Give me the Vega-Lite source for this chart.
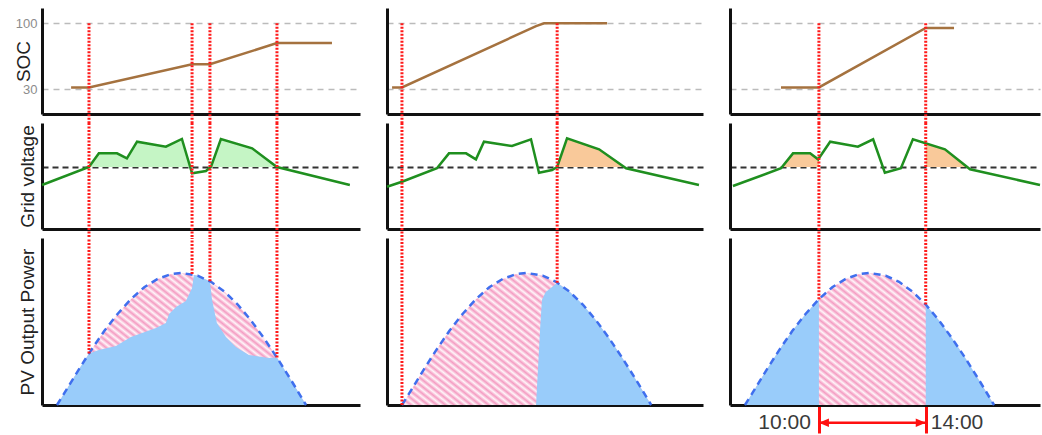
{
"$schema":"https://vega.github.io/schema/vega-lite/v6.json",
"padding":{"left":14,"top":8,"right":0,"bottom":0},
"bounds":"flush",
"columns":3,
"spacing":{"row":9,"column":27},
"config":{
 "font":"Liberation Sans",
 "view":{"stroke":null},
 "axis":{"domainColor":"#111111","domainWidth":3,"ticks":false,"labels":false,"grid":false,"zindex":1,"titleFont":"Liberation Sans","titleFontSize":19,"titleFontWeight":"normal","titleColor":"#222222","labelFont":"Liberation Sans"}
},
"datasets":{
 "soc":[
  {"col":"A","t":7.76,"soc":32},{"col":"A","t":8.43,"soc":32},{"col":"A","t":12.29,"soc":56.5},{"col":"A","t":12.96,"soc":56.5},{"col":"A","t":15.47,"soc":79},{"col":"A","t":17.53,"soc":79},
  {"col":"B","t":6.86,"soc":32},{"col":"B","t":7.23,"soc":32},{"col":"B","t":12.25,"soc":97},{"col":"B","t":12.55,"soc":100},{"col":"B","t":14.91,"soc":100},
  {"col":"C","t":8.58,"soc":32},{"col":"C","t":10,"soc":32},{"col":"C","t":14,"soc":95},{"col":"C","t":15.06,"soc":95}],
 "grid":[
  {"col":"A","t":6.67,"v":228.29},{"col":"A","t":8.43,"v":230},{"col":"A","t":8.8,"v":231.3},{"col":"A","t":9.48,"v":231.3},{"col":"A","t":9.85,"v":230.83},{"col":"A","t":10.23,"v":232.41},{"col":"A","t":11.31,"v":231.93},{"col":"A","t":11.91,"v":232.67},{"col":"A","t":12.29,"v":229.4},{"col":"A","t":12.81,"v":229.62},{"col":"A","t":13.0,"v":230.03},{"col":"A","t":13.37,"v":232.67},{"col":"A","t":14.54,"v":231.78},{"col":"A","t":15.47,"v":230},{"col":"A","t":18.2,"v":228.29},
  {"col":"B","t":6.67,"v":228.12},{"col":"B","t":7.23,"v":228.6},{"col":"B","t":8.54,"v":229.88},{"col":"B","t":8.99,"v":231.3},{"col":"B","t":9.63,"v":231.3},{"col":"B","t":10.0,"v":230.73},{"col":"B","t":10.3,"v":232.41},{"col":"B","t":11.35,"v":232.0},{"col":"B","t":12.06,"v":232.64},{"col":"B","t":12.36,"v":229.46},{"col":"B","t":12.85,"v":229.71},{"col":"B","t":13.04,"v":230},{"col":"B","t":13.41,"v":232.73},{"col":"B","t":14.61,"v":231.69},{"col":"B","t":15.62,"v":229.88},{"col":"B","t":18.35,"v":228.29},
  {"col":"C","t":6.78,"v":228.19},{"col":"C","t":8.58,"v":229.88},{"col":"C","t":9.03,"v":231.3},{"col":"C","t":9.67,"v":231.3},{"col":"C","t":9.97,"v":230.73},{"col":"C","t":10.42,"v":232.41},{"col":"C","t":11.46,"v":231.93},{"col":"C","t":12.03,"v":232.64},{"col":"C","t":12.47,"v":229.46},{"col":"C","t":13.07,"v":229.88},{"col":"C","t":13.52,"v":232.64},{"col":"C","t":14.72,"v":231.69},{"col":"C","t":15.66,"v":229.78},{"col":"C","t":18.28,"v":228.29}],
 "gfill":[
  {"col":"A","seg":1,"t":8.43,"v":230},{"col":"A","seg":1,"t":8.8,"v":231.3},{"col":"A","seg":1,"t":9.48,"v":231.3},{"col":"A","seg":1,"t":9.85,"v":230.83},{"col":"A","seg":1,"t":10.23,"v":232.41},{"col":"A","seg":1,"t":11.31,"v":231.93},{"col":"A","seg":1,"t":11.91,"v":232.67},{"col":"A","seg":1,"t":12.22,"v":230},
  {"col":"A","seg":2,"t":12.99,"v":230},{"col":"A","seg":2,"t":13.37,"v":232.67},{"col":"A","seg":2,"t":14.54,"v":231.78},{"col":"A","seg":2,"t":15.47,"v":230},
  {"col":"B","seg":1,"t":13.04,"v":230},{"col":"B","seg":1,"t":13.41,"v":232.73},{"col":"B","seg":1,"t":14.61,"v":231.69},{"col":"B","seg":1,"t":15.55,"v":230},
  {"col":"C","seg":1,"t":8.62,"v":230},{"col":"C","seg":1,"t":9.03,"v":231.3},{"col":"C","seg":1,"t":9.67,"v":231.3},{"col":"C","seg":1,"t":9.97,"v":230.73},{"col":"C","seg":1,"t":10.0,"v":230.84},
  {"col":"C","seg":2,"t":14.0,"v":232.26},{"col":"C","seg":2,"t":14.72,"v":231.69},{"col":"C","seg":2,"t":15.55,"v":230}],
 "bell":[
  {"t":7.23,"p":0},{"t":7.5,"p":6.9},{"t":8,"p":19.9},{"t":8.5,"p":32.4},{"t":9,"p":44},{"t":9.5,"p":54.2},{"t":10,"p":63},{"t":10.5,"p":70.1},{"t":11,"p":75},{"t":11.5,"p":77.9},{"t":11.9,"p":78.6},{"t":12.5,"p":77},{"t":13,"p":73.3},{"t":13.5,"p":67.5},{"t":14,"p":59.8},{"t":14.5,"p":50.3},{"t":15,"p":39.4},{"t":15.5,"p":27.5},{"t":16,"p":14.8},{"t":16.56,"p":0}],
 "pv":[
  {"col":"A","seg":1,"t":7.23,"p":0},{"col":"A","seg":1,"t":7.5,"p":6.9},{"col":"A","seg":1,"t":8,"p":19.9},{"col":"A","seg":1,"t":8.43,"p":30.6},{"col":"A","seg":1,"t":8.8,"p":32.7},{"col":"A","seg":1,"t":9.44,"p":35.1},{"col":"A","seg":1,"t":10.0,"p":40.5},{"col":"A","seg":1,"t":10.94,"p":45.8},{"col":"A","seg":1,"t":11.31,"p":48.8},{"col":"A","seg":1,"t":11.43,"p":54.2},{"col":"A","seg":1,"t":11.69,"p":58.3},{"col":"A","seg":1,"t":12.06,"p":61.9},{"col":"A","seg":1,"t":12.29,"p":69.6},{"col":"A","seg":1,"t":12.36,"p":77.4},{"col":"A","seg":1,"t":12.5,"p":77},{"col":"A","seg":1,"t":12.96,"p":73.6},{"col":"A","seg":1,"t":13.04,"p":62.5},{"col":"A","seg":1,"t":13.22,"p":48.8},{"col":"A","seg":1,"t":13.56,"p":40.5},{"col":"A","seg":1,"t":13.93,"p":34.5},{"col":"A","seg":1,"t":14.42,"p":29.8},{"col":"A","seg":1,"t":15.17,"p":28.0},{"col":"A","seg":1,"t":15.47,"p":28.2},{"col":"A","seg":1,"t":15.5,"p":27.5},{"col":"A","seg":1,"t":16,"p":14.8},{"col":"A","seg":1,"t":16.56,"p":0},
  {"col":"B","seg":1,"t":12.25,"p":0},{"col":"B","seg":1,"t":12.4,"p":45},{"col":"B","seg":1,"t":12.47,"p":62.5},{"col":"B","seg":1,"t":12.61,"p":67.3},{"col":"B","seg":1,"t":12.85,"p":70.2},{"col":"B","seg":1,"t":13.04,"p":72.8},{"col":"B","seg":1,"t":13.5,"p":67.5},{"col":"B","seg":1,"t":14,"p":59.8},{"col":"B","seg":1,"t":14.5,"p":50.3},{"col":"B","seg":1,"t":15,"p":39.4},{"col":"B","seg":1,"t":15.5,"p":27.5},{"col":"B","seg":1,"t":16,"p":14.8},{"col":"B","seg":1,"t":16.56,"p":0},
  {"col":"C","seg":1,"t":7.23,"p":0},{"col":"C","seg":1,"t":7.5,"p":6.9},{"col":"C","seg":1,"t":8,"p":19.9},{"col":"C","seg":1,"t":8.5,"p":32.4},{"col":"C","seg":1,"t":9,"p":44},{"col":"C","seg":1,"t":9.5,"p":54.2},{"col":"C","seg":1,"t":10,"p":63},
  {"col":"C","seg":2,"t":14,"p":59.8},{"col":"C","seg":2,"t":14.5,"p":50.3},{"col":"C","seg":2,"t":15,"p":39.4},{"col":"C","seg":2,"t":15.5,"p":27.5},{"col":"C","seg":2,"t":16,"p":14.8},{"col":"C","seg":2,"t":16.56,"p":0}],
 "ev":[
  {"col":"A","t":8.43,"p":30.6},{"col":"A","t":12.29,"p":77.9},{"col":"A","t":12.96,"p":73.6},{"col":"A","t":15.47,"p":28.2},
  {"col":"B","t":7.23,"p":0},{"col":"B","t":13.04,"p":72.8},
  {"col":"C","t":10,"p":63},{"col":"C","t":14,"p":59.8}],
 "span":[{"t":10,"label":"10:00","side":"L"},{"t":14,"label":"14:00","side":"R"}],
 "arrow":[{"t":10,"t2":14}]
},
"concat":[
 {"width":318,"height":106,
  "encoding":{"x":{"field":"t","type":"quantitative","scale":{"domain":[6.67,18.58],"nice":false,"zero":false},"axis":{"title":null}}},
  "layer":[
   {"data":{"name":"soc"},"transform":[{"filter":"datum.col=='A'"}],"mark":{"type":"line","color":"#a5723f","strokeWidth":2.5},
    "encoding":{"y":{"field":"soc","type":"quantitative","scale":{"domain":[3.8,116.2],"nice":false,"zero":false},
     "axis":{"title":"SOC","values":[30,100],"grid":true,"gridDash":[6,5],"gridColor":"#bbbbbb","gridWidth":1.5,"labels":true,"labelColor":"#8c8c8c","labelFontSize":13,"labelPadding":5,"titlePadding":-18}}}},
   {"data":{"name":"ev"},"transform":[{"filter":"datum.col=='A'"}],"mark":{"type":"rule","color":"#ff1a1a","strokeWidth":3,"strokeDash":[2,1.5]},
    "encoding":{"y":{"datum":100},"y2":{"datum":-5.7}}}
  ]},
 {"width":316,"height":106,
  "encoding":{"x":{"field":"t","type":"quantitative","scale":{"domain":[6.67,18.5],"nice":false,"zero":false},"axis":{"title":null}}},
  "layer":[
   {"data":{"name":"soc"},"transform":[{"filter":"datum.col=='B'"}],"mark":{"type":"line","color":"#a5723f","strokeWidth":2.5},
    "encoding":{"y":{"field":"soc","type":"quantitative","scale":{"domain":[3.8,116.2],"nice":false,"zero":false},
     "axis":{"title":null,"values":[30,100],"grid":true,"gridDash":[6,5],"gridColor":"#bbbbbb","gridWidth":1.5}}}},
   {"data":{"name":"ev"},"transform":[{"filter":"datum.col=='B'"}],"mark":{"type":"rule","color":"#ff1a1a","strokeWidth":3,"strokeDash":[2,1.5]},
    "encoding":{"y":{"datum":100},"y2":{"datum":-5.7}}}
  ]},
 {"width":310,"height":106,
  "encoding":{"x":{"field":"t","type":"quantitative","scale":{"domain":[6.67,18.28],"nice":false,"zero":false},"axis":{"title":null}}},
  "layer":[
   {"data":{"name":"soc"},"transform":[{"filter":"datum.col=='C'"}],"mark":{"type":"line","color":"#a5723f","strokeWidth":2.5},
    "encoding":{"y":{"field":"soc","type":"quantitative","scale":{"domain":[3.8,116.2],"nice":false,"zero":false},
     "axis":{"title":null,"values":[30,100],"grid":true,"gridDash":[6,5],"gridColor":"#bbbbbb","gridWidth":1.5}}}},
   {"data":{"name":"ev"},"transform":[{"filter":"datum.col=='C'"}],"mark":{"type":"rule","color":"#ff1a1a","strokeWidth":3,"strokeDash":[2,1.5]},
    "encoding":{"y":{"datum":100},"y2":{"datum":-5.7}}}
  ]},
 {"width":318,"height":106,
  "encoding":{"x":{"field":"t","type":"quantitative","scale":{"domain":[6.67,18.58],"nice":false,"zero":false},"axis":{"title":null}}},
  "layer":[
   {"data":{"name":"gfill"},"transform":[{"filter":"datum.col=='A'"}],"mark":{"type":"area","color":"#c5f5c5","opacity":1},
    "encoding":{"y":{"field":"v","type":"quantitative","scale":{"domain":[224.1,234.19],"nice":false,"zero":false},
     "axis":{"title":"Grid voltage","values":[230],"grid":true,"gridDash":[6,4],"gridColor":"#333333","gridWidth":2,"titlePadding":5}},
     "y2":{"datum":230},"detail":{"field":"seg","type":"nominal"}}},
   {"data":{"name":"grid"},"transform":[{"filter":"datum.col=='A'"}],"mark":{"type":"line","color":"#1f8f1f","strokeWidth":2.5},
    "encoding":{"y":{"field":"v","type":"quantitative"}}},
   {"data":{"name":"ev"},"transform":[{"filter":"datum.col=='A'"}],"mark":{"type":"rule","color":"#ff1a1a","strokeWidth":3,"strokeDash":[2,1.5]},
    "encoding":{"y":{"datum":234.19},"y2":{"datum":223.24}}}
  ]},
 {"width":316,"height":106,
  "encoding":{"x":{"field":"t","type":"quantitative","scale":{"domain":[6.67,18.5],"nice":false,"zero":false},"axis":{"title":null}}},
  "layer":[
   {"data":{"name":"gfill"},"transform":[{"filter":"datum.col=='B'"}],"mark":{"type":"area","color":"#f9c99a","opacity":1},
    "encoding":{"y":{"field":"v","type":"quantitative","scale":{"domain":[224.1,234.19],"nice":false,"zero":false},
     "axis":{"title":null,"values":[230],"grid":true,"gridDash":[6,4],"gridColor":"#333333","gridWidth":2}},
     "y2":{"datum":230},"detail":{"field":"seg","type":"nominal"}}},
   {"data":{"name":"grid"},"transform":[{"filter":"datum.col=='B'"}],"mark":{"type":"line","color":"#1f8f1f","strokeWidth":2.5},
    "encoding":{"y":{"field":"v","type":"quantitative"}}},
   {"data":{"name":"ev"},"transform":[{"filter":"datum.col=='B'"}],"mark":{"type":"rule","color":"#ff1a1a","strokeWidth":3,"strokeDash":[2,1.5]},
    "encoding":{"y":{"datum":234.19},"y2":{"datum":223.24}}}
  ]},
 {"width":310,"height":106,
  "encoding":{"x":{"field":"t","type":"quantitative","scale":{"domain":[6.67,18.28],"nice":false,"zero":false},"axis":{"title":null}}},
  "layer":[
   {"data":{"name":"gfill"},"transform":[{"filter":"datum.col=='C'"}],"mark":{"type":"area","color":"#f9c99a","opacity":1},
    "encoding":{"y":{"field":"v","type":"quantitative","scale":{"domain":[224.1,234.19],"nice":false,"zero":false},
     "axis":{"title":null,"values":[230],"grid":true,"gridDash":[6,4],"gridColor":"#333333","gridWidth":2}},
     "y2":{"datum":230},"detail":{"field":"seg","type":"nominal"}}},
   {"data":{"name":"grid"},"transform":[{"filter":"datum.col=='C'"}],"mark":{"type":"line","color":"#1f8f1f","strokeWidth":2.5},
    "encoding":{"y":{"field":"v","type":"quantitative"}}},
   {"data":{"name":"ev"},"transform":[{"filter":"datum.col=='C'"}],"mark":{"type":"rule","color":"#ff1a1a","strokeWidth":3,"strokeDash":[2,1.5]},
    "encoding":{"y":{"datum":234.19},"y2":{"datum":223.24}}}
  ]},
 {"width":318,"height":167,
  "encoding":{"x":{"field":"t","type":"quantitative","scale":{"domain":[6.67,18.58],"nice":false,"zero":false},"axis":{"title":null}}},
  "layer":[
   {"data":{"name":"bell"},"mark":{"type":"area","opacity":1,"color":{"gradient":"linear","x1":-0.1,"y1":0.9,"x2":1.1,"y2":0.1,"stops":[
{"offset":0,"color":"#f49cc2"},{"offset":0.01,"color":"#fff5f9"},{"offset":0.02,"color":"#f49cc2"},{"offset":0.03,"color":"#fff5f9"},{"offset":0.04,"color":"#f49cc2"},{"offset":0.05,"color":"#fff5f9"},{"offset":0.06,"color":"#f49cc2"},{"offset":0.07,"color":"#fff5f9"},{"offset":0.08,"color":"#f49cc2"},{"offset":0.09,"color":"#fff5f9"},
{"offset":0.1,"color":"#f49cc2"},{"offset":0.11,"color":"#fff5f9"},{"offset":0.12,"color":"#f49cc2"},{"offset":0.13,"color":"#fff5f9"},{"offset":0.14,"color":"#f49cc2"},{"offset":0.15,"color":"#fff5f9"},{"offset":0.16,"color":"#f49cc2"},{"offset":0.17,"color":"#fff5f9"},{"offset":0.18,"color":"#f49cc2"},{"offset":0.19,"color":"#fff5f9"},
{"offset":0.2,"color":"#f49cc2"},{"offset":0.21,"color":"#fff5f9"},{"offset":0.22,"color":"#f49cc2"},{"offset":0.23,"color":"#fff5f9"},{"offset":0.24,"color":"#f49cc2"},{"offset":0.25,"color":"#fff5f9"},{"offset":0.26,"color":"#f49cc2"},{"offset":0.27,"color":"#fff5f9"},{"offset":0.28,"color":"#f49cc2"},{"offset":0.29,"color":"#fff5f9"},
{"offset":0.3,"color":"#f49cc2"},{"offset":0.31,"color":"#fff5f9"},{"offset":0.32,"color":"#f49cc2"},{"offset":0.33,"color":"#fff5f9"},{"offset":0.34,"color":"#f49cc2"},{"offset":0.35,"color":"#fff5f9"},{"offset":0.36,"color":"#f49cc2"},{"offset":0.37,"color":"#fff5f9"},{"offset":0.38,"color":"#f49cc2"},{"offset":0.39,"color":"#fff5f9"},
{"offset":0.4,"color":"#f49cc2"},{"offset":0.41,"color":"#fff5f9"},{"offset":0.42,"color":"#f49cc2"},{"offset":0.43,"color":"#fff5f9"},{"offset":0.44,"color":"#f49cc2"},{"offset":0.45,"color":"#fff5f9"},{"offset":0.46,"color":"#f49cc2"},{"offset":0.47,"color":"#fff5f9"},{"offset":0.48,"color":"#f49cc2"},{"offset":0.49,"color":"#fff5f9"},
{"offset":0.5,"color":"#f49cc2"},{"offset":0.51,"color":"#fff5f9"},{"offset":0.52,"color":"#f49cc2"},{"offset":0.53,"color":"#fff5f9"},{"offset":0.54,"color":"#f49cc2"},{"offset":0.55,"color":"#fff5f9"},{"offset":0.56,"color":"#f49cc2"},{"offset":0.57,"color":"#fff5f9"},{"offset":0.58,"color":"#f49cc2"},{"offset":0.59,"color":"#fff5f9"},
{"offset":0.6,"color":"#f49cc2"},{"offset":0.61,"color":"#fff5f9"},{"offset":0.62,"color":"#f49cc2"},{"offset":0.63,"color":"#fff5f9"},{"offset":0.64,"color":"#f49cc2"},{"offset":0.65,"color":"#fff5f9"},{"offset":0.66,"color":"#f49cc2"},{"offset":0.67,"color":"#fff5f9"},{"offset":0.68,"color":"#f49cc2"},{"offset":0.69,"color":"#fff5f9"},
{"offset":0.7,"color":"#f49cc2"},{"offset":0.71,"color":"#fff5f9"},{"offset":0.72,"color":"#f49cc2"},{"offset":0.73,"color":"#fff5f9"},{"offset":0.74,"color":"#f49cc2"},{"offset":0.75,"color":"#fff5f9"},{"offset":0.76,"color":"#f49cc2"},{"offset":0.77,"color":"#fff5f9"},{"offset":0.78,"color":"#f49cc2"},{"offset":0.79,"color":"#fff5f9"},
{"offset":0.8,"color":"#f49cc2"},{"offset":0.81,"color":"#fff5f9"},{"offset":0.82,"color":"#f49cc2"},{"offset":0.83,"color":"#fff5f9"},{"offset":0.84,"color":"#f49cc2"},{"offset":0.85,"color":"#fff5f9"},{"offset":0.86,"color":"#f49cc2"},{"offset":0.87,"color":"#fff5f9"},{"offset":0.88,"color":"#f49cc2"},{"offset":0.89,"color":"#fff5f9"},
{"offset":0.9,"color":"#f49cc2"},{"offset":0.91,"color":"#fff5f9"},{"offset":0.92,"color":"#f49cc2"},{"offset":0.93,"color":"#fff5f9"},{"offset":0.94,"color":"#f49cc2"},{"offset":0.95,"color":"#fff5f9"},{"offset":0.96,"color":"#f49cc2"},{"offset":0.97,"color":"#fff5f9"},{"offset":0.98,"color":"#f49cc2"},{"offset":0.99,"color":"#fff5f9"},
{"offset":1,"color":"#f49cc2"}]}},
    "encoding":{"y":{"field":"p","type":"quantitative","stack":null,"scale":{"domain":[0,99.4],"nice":false},"axis":{"title":"PV Output Power","titlePadding":5}}}},
   {"data":{"name":"pv"},"transform":[{"filter":"datum.col=='A'"}],"mark":{"type":"area","color":"#99ccfa","opacity":1},
    "encoding":{"y":{"field":"p","type":"quantitative","stack":null},"detail":{"field":"seg","type":"nominal"}}},
   {"data":{"name":"bell"},"mark":{"type":"line","color":"#3f6fee","strokeWidth":2.5,"strokeDash":[7,5]},
    "encoding":{"y":{"field":"p","type":"quantitative"}}},
   {"data":{"name":"ev"},"transform":[{"filter":"datum.col=='A'"}],"mark":{"type":"rule","color":"#ff1a1a","strokeWidth":3,"strokeDash":[2,1.5]},
    "encoding":{"y":{"field":"p","type":"quantitative"},"y2":{"datum":99.4}}}
  ]},
 {"width":316,"height":167,
  "encoding":{"x":{"field":"t","type":"quantitative","scale":{"domain":[6.67,18.5],"nice":false,"zero":false},"axis":{"title":null}}},
  "layer":[
   {"data":{"name":"bell"},"mark":{"type":"area","opacity":1,"color":{"gradient":"linear","x1":-0.1,"y1":0.9,"x2":1.1,"y2":0.1,"stops":[
{"offset":0,"color":"#f49cc2"},{"offset":0.01,"color":"#fff5f9"},{"offset":0.02,"color":"#f49cc2"},{"offset":0.03,"color":"#fff5f9"},{"offset":0.04,"color":"#f49cc2"},{"offset":0.05,"color":"#fff5f9"},{"offset":0.06,"color":"#f49cc2"},{"offset":0.07,"color":"#fff5f9"},{"offset":0.08,"color":"#f49cc2"},{"offset":0.09,"color":"#fff5f9"},
{"offset":0.1,"color":"#f49cc2"},{"offset":0.11,"color":"#fff5f9"},{"offset":0.12,"color":"#f49cc2"},{"offset":0.13,"color":"#fff5f9"},{"offset":0.14,"color":"#f49cc2"},{"offset":0.15,"color":"#fff5f9"},{"offset":0.16,"color":"#f49cc2"},{"offset":0.17,"color":"#fff5f9"},{"offset":0.18,"color":"#f49cc2"},{"offset":0.19,"color":"#fff5f9"},
{"offset":0.2,"color":"#f49cc2"},{"offset":0.21,"color":"#fff5f9"},{"offset":0.22,"color":"#f49cc2"},{"offset":0.23,"color":"#fff5f9"},{"offset":0.24,"color":"#f49cc2"},{"offset":0.25,"color":"#fff5f9"},{"offset":0.26,"color":"#f49cc2"},{"offset":0.27,"color":"#fff5f9"},{"offset":0.28,"color":"#f49cc2"},{"offset":0.29,"color":"#fff5f9"},
{"offset":0.3,"color":"#f49cc2"},{"offset":0.31,"color":"#fff5f9"},{"offset":0.32,"color":"#f49cc2"},{"offset":0.33,"color":"#fff5f9"},{"offset":0.34,"color":"#f49cc2"},{"offset":0.35,"color":"#fff5f9"},{"offset":0.36,"color":"#f49cc2"},{"offset":0.37,"color":"#fff5f9"},{"offset":0.38,"color":"#f49cc2"},{"offset":0.39,"color":"#fff5f9"},
{"offset":0.4,"color":"#f49cc2"},{"offset":0.41,"color":"#fff5f9"},{"offset":0.42,"color":"#f49cc2"},{"offset":0.43,"color":"#fff5f9"},{"offset":0.44,"color":"#f49cc2"},{"offset":0.45,"color":"#fff5f9"},{"offset":0.46,"color":"#f49cc2"},{"offset":0.47,"color":"#fff5f9"},{"offset":0.48,"color":"#f49cc2"},{"offset":0.49,"color":"#fff5f9"},
{"offset":0.5,"color":"#f49cc2"},{"offset":0.51,"color":"#fff5f9"},{"offset":0.52,"color":"#f49cc2"},{"offset":0.53,"color":"#fff5f9"},{"offset":0.54,"color":"#f49cc2"},{"offset":0.55,"color":"#fff5f9"},{"offset":0.56,"color":"#f49cc2"},{"offset":0.57,"color":"#fff5f9"},{"offset":0.58,"color":"#f49cc2"},{"offset":0.59,"color":"#fff5f9"},
{"offset":0.6,"color":"#f49cc2"},{"offset":0.61,"color":"#fff5f9"},{"offset":0.62,"color":"#f49cc2"},{"offset":0.63,"color":"#fff5f9"},{"offset":0.64,"color":"#f49cc2"},{"offset":0.65,"color":"#fff5f9"},{"offset":0.66,"color":"#f49cc2"},{"offset":0.67,"color":"#fff5f9"},{"offset":0.68,"color":"#f49cc2"},{"offset":0.69,"color":"#fff5f9"},
{"offset":0.7,"color":"#f49cc2"},{"offset":0.71,"color":"#fff5f9"},{"offset":0.72,"color":"#f49cc2"},{"offset":0.73,"color":"#fff5f9"},{"offset":0.74,"color":"#f49cc2"},{"offset":0.75,"color":"#fff5f9"},{"offset":0.76,"color":"#f49cc2"},{"offset":0.77,"color":"#fff5f9"},{"offset":0.78,"color":"#f49cc2"},{"offset":0.79,"color":"#fff5f9"},
{"offset":0.8,"color":"#f49cc2"},{"offset":0.81,"color":"#fff5f9"},{"offset":0.82,"color":"#f49cc2"},{"offset":0.83,"color":"#fff5f9"},{"offset":0.84,"color":"#f49cc2"},{"offset":0.85,"color":"#fff5f9"},{"offset":0.86,"color":"#f49cc2"},{"offset":0.87,"color":"#fff5f9"},{"offset":0.88,"color":"#f49cc2"},{"offset":0.89,"color":"#fff5f9"},
{"offset":0.9,"color":"#f49cc2"},{"offset":0.91,"color":"#fff5f9"},{"offset":0.92,"color":"#f49cc2"},{"offset":0.93,"color":"#fff5f9"},{"offset":0.94,"color":"#f49cc2"},{"offset":0.95,"color":"#fff5f9"},{"offset":0.96,"color":"#f49cc2"},{"offset":0.97,"color":"#fff5f9"},{"offset":0.98,"color":"#f49cc2"},{"offset":0.99,"color":"#fff5f9"},
{"offset":1,"color":"#f49cc2"}]}},
    "encoding":{"y":{"field":"p","type":"quantitative","stack":null,"scale":{"domain":[0,99.4],"nice":false},"axis":{"title":null}}}},
   {"data":{"name":"pv"},"transform":[{"filter":"datum.col=='B'"}],"mark":{"type":"area","color":"#99ccfa","opacity":1},
    "encoding":{"y":{"field":"p","type":"quantitative","stack":null},"detail":{"field":"seg","type":"nominal"}}},
   {"data":{"name":"bell"},"mark":{"type":"line","color":"#3f6fee","strokeWidth":2.5,"strokeDash":[7,5]},
    "encoding":{"y":{"field":"p","type":"quantitative"}}},
   {"data":{"name":"ev"},"transform":[{"filter":"datum.col=='B'"}],"mark":{"type":"rule","color":"#ff1a1a","strokeWidth":3,"strokeDash":[2,1.5]},
    "encoding":{"y":{"field":"p","type":"quantitative"},"y2":{"datum":99.4}}}
  ]},
 {"width":310,"height":167,
  "encoding":{"x":{"field":"t","type":"quantitative","scale":{"domain":[6.67,18.28],"nice":false,"zero":false},
   "axis":{"title":null,"values":[10,14],"ticks":true,"tickColor":"#ff1010","tickWidth":3,"tickSize":28}}},
  "layer":[
   {"data":{"name":"bell"},"mark":{"type":"area","opacity":1,"color":{"gradient":"linear","x1":-0.1,"y1":0.9,"x2":1.1,"y2":0.1,"stops":[
{"offset":0,"color":"#f49cc2"},{"offset":0.01,"color":"#fff5f9"},{"offset":0.02,"color":"#f49cc2"},{"offset":0.03,"color":"#fff5f9"},{"offset":0.04,"color":"#f49cc2"},{"offset":0.05,"color":"#fff5f9"},{"offset":0.06,"color":"#f49cc2"},{"offset":0.07,"color":"#fff5f9"},{"offset":0.08,"color":"#f49cc2"},{"offset":0.09,"color":"#fff5f9"},
{"offset":0.1,"color":"#f49cc2"},{"offset":0.11,"color":"#fff5f9"},{"offset":0.12,"color":"#f49cc2"},{"offset":0.13,"color":"#fff5f9"},{"offset":0.14,"color":"#f49cc2"},{"offset":0.15,"color":"#fff5f9"},{"offset":0.16,"color":"#f49cc2"},{"offset":0.17,"color":"#fff5f9"},{"offset":0.18,"color":"#f49cc2"},{"offset":0.19,"color":"#fff5f9"},
{"offset":0.2,"color":"#f49cc2"},{"offset":0.21,"color":"#fff5f9"},{"offset":0.22,"color":"#f49cc2"},{"offset":0.23,"color":"#fff5f9"},{"offset":0.24,"color":"#f49cc2"},{"offset":0.25,"color":"#fff5f9"},{"offset":0.26,"color":"#f49cc2"},{"offset":0.27,"color":"#fff5f9"},{"offset":0.28,"color":"#f49cc2"},{"offset":0.29,"color":"#fff5f9"},
{"offset":0.3,"color":"#f49cc2"},{"offset":0.31,"color":"#fff5f9"},{"offset":0.32,"color":"#f49cc2"},{"offset":0.33,"color":"#fff5f9"},{"offset":0.34,"color":"#f49cc2"},{"offset":0.35,"color":"#fff5f9"},{"offset":0.36,"color":"#f49cc2"},{"offset":0.37,"color":"#fff5f9"},{"offset":0.38,"color":"#f49cc2"},{"offset":0.39,"color":"#fff5f9"},
{"offset":0.4,"color":"#f49cc2"},{"offset":0.41,"color":"#fff5f9"},{"offset":0.42,"color":"#f49cc2"},{"offset":0.43,"color":"#fff5f9"},{"offset":0.44,"color":"#f49cc2"},{"offset":0.45,"color":"#fff5f9"},{"offset":0.46,"color":"#f49cc2"},{"offset":0.47,"color":"#fff5f9"},{"offset":0.48,"color":"#f49cc2"},{"offset":0.49,"color":"#fff5f9"},
{"offset":0.5,"color":"#f49cc2"},{"offset":0.51,"color":"#fff5f9"},{"offset":0.52,"color":"#f49cc2"},{"offset":0.53,"color":"#fff5f9"},{"offset":0.54,"color":"#f49cc2"},{"offset":0.55,"color":"#fff5f9"},{"offset":0.56,"color":"#f49cc2"},{"offset":0.57,"color":"#fff5f9"},{"offset":0.58,"color":"#f49cc2"},{"offset":0.59,"color":"#fff5f9"},
{"offset":0.6,"color":"#f49cc2"},{"offset":0.61,"color":"#fff5f9"},{"offset":0.62,"color":"#f49cc2"},{"offset":0.63,"color":"#fff5f9"},{"offset":0.64,"color":"#f49cc2"},{"offset":0.65,"color":"#fff5f9"},{"offset":0.66,"color":"#f49cc2"},{"offset":0.67,"color":"#fff5f9"},{"offset":0.68,"color":"#f49cc2"},{"offset":0.69,"color":"#fff5f9"},
{"offset":0.7,"color":"#f49cc2"},{"offset":0.71,"color":"#fff5f9"},{"offset":0.72,"color":"#f49cc2"},{"offset":0.73,"color":"#fff5f9"},{"offset":0.74,"color":"#f49cc2"},{"offset":0.75,"color":"#fff5f9"},{"offset":0.76,"color":"#f49cc2"},{"offset":0.77,"color":"#fff5f9"},{"offset":0.78,"color":"#f49cc2"},{"offset":0.79,"color":"#fff5f9"},
{"offset":0.8,"color":"#f49cc2"},{"offset":0.81,"color":"#fff5f9"},{"offset":0.82,"color":"#f49cc2"},{"offset":0.83,"color":"#fff5f9"},{"offset":0.84,"color":"#f49cc2"},{"offset":0.85,"color":"#fff5f9"},{"offset":0.86,"color":"#f49cc2"},{"offset":0.87,"color":"#fff5f9"},{"offset":0.88,"color":"#f49cc2"},{"offset":0.89,"color":"#fff5f9"},
{"offset":0.9,"color":"#f49cc2"},{"offset":0.91,"color":"#fff5f9"},{"offset":0.92,"color":"#f49cc2"},{"offset":0.93,"color":"#fff5f9"},{"offset":0.94,"color":"#f49cc2"},{"offset":0.95,"color":"#fff5f9"},{"offset":0.96,"color":"#f49cc2"},{"offset":0.97,"color":"#fff5f9"},{"offset":0.98,"color":"#f49cc2"},{"offset":0.99,"color":"#fff5f9"},
{"offset":1,"color":"#f49cc2"}]}},
    "encoding":{"y":{"field":"p","type":"quantitative","stack":null,"scale":{"domain":[0,99.4],"nice":false},"axis":{"title":null}}}},
   {"data":{"name":"pv"},"transform":[{"filter":"datum.col=='C'"}],"mark":{"type":"area","color":"#99ccfa","opacity":1},
    "encoding":{"y":{"field":"p","type":"quantitative","stack":null},"detail":{"field":"seg","type":"nominal"}}},
   {"data":{"name":"bell"},"mark":{"type":"line","color":"#3f6fee","strokeWidth":2.5,"strokeDash":[7,5]},
    "encoding":{"y":{"field":"p","type":"quantitative"}}},
   {"data":{"name":"ev"},"transform":[{"filter":"datum.col=='C'"}],"mark":{"type":"rule","color":"#ff1a1a","strokeWidth":3,"strokeDash":[2,1.5]},
    "encoding":{"y":{"field":"p","type":"quantitative"},"y2":{"datum":99.4}}},
   {"data":{"name":"arrow"},"mark":{"type":"rule","color":"#ff1010","strokeWidth":2.5},
    "encoding":{"x2":{"field":"t2"},"y":{"datum":-10.5}}},
   {"data":{"name":"span"},"transform":[{"filter":"datum.side=='L'"}],"mark":{"type":"point","shape":"M0,0L2,-0.85L2,0.85Z","filled":true,"color":"#ff1010","size":100,"opacity":1},
    "encoding":{"y":{"datum":-10.5}}},
   {"data":{"name":"span"},"transform":[{"filter":"datum.side=='R'"}],"mark":{"type":"point","shape":"M0,0L-2,-0.85L-2,0.85Z","filled":true,"color":"#ff1010","size":100,"opacity":1},
    "encoding":{"y":{"datum":-10.5}}},
   {"data":{"name":"span"},"transform":[{"filter":"datum.side=='L'"}],"mark":{"type":"text","align":"right","baseline":"middle","dx":-8,"fontSize":21,"color":"#3a3a3a"},
    "encoding":{"y":{"datum":-10.5},"text":{"field":"label"}}},
   {"data":{"name":"span"},"transform":[{"filter":"datum.side=='R'"}],"mark":{"type":"text","align":"left","baseline":"middle","dx":5,"fontSize":21,"color":"#3a3a3a"},
    "encoding":{"y":{"datum":-10.5},"text":{"field":"label"}}}
  ]}
]
}
